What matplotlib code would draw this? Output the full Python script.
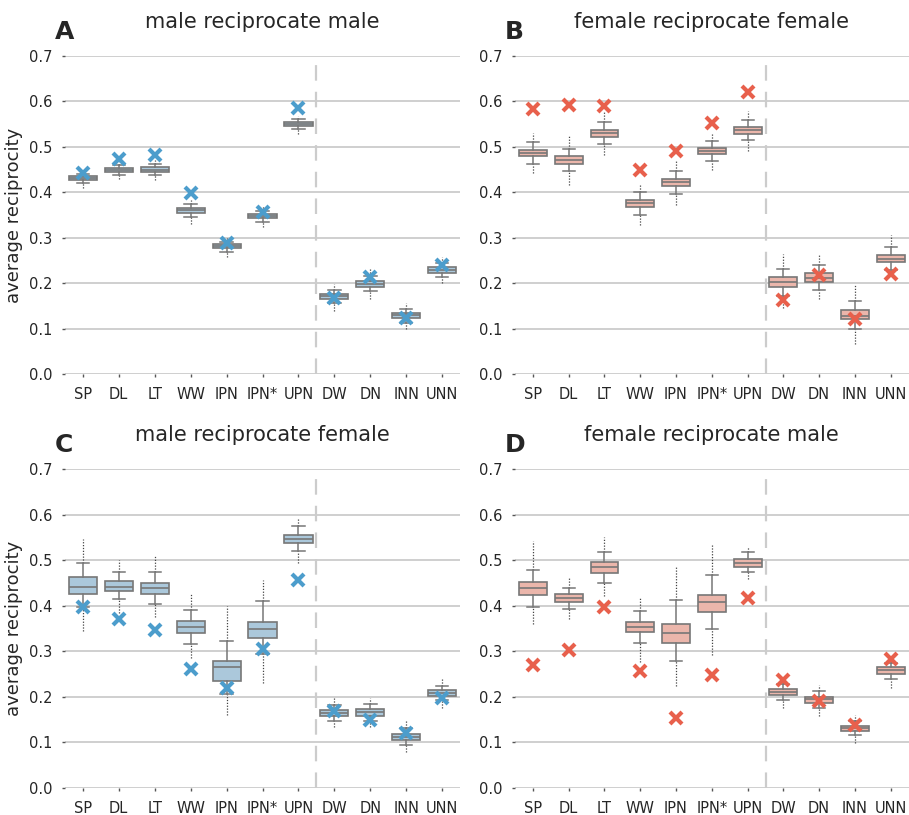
import matplotlib
matplotlib.use("Agg")
from matplotlib import pyplot as plt

cats = ['SP', 'DL', 'LT', 'WW', 'IPN', 'IPN*', 'UPN', 'DW', 'DN', 'INN', 'UNN']

# panel A: male reciprocate male
a_med = [.431, .449, .450, .360, .282, .347, .551, .171, .1985, .129, .229]
a_q1 = [.4265, .444, .445, .354, .2765, .343, .546, .1655, .192, .123, .223]
a_q3 = [.435, .4535, .455, .366, .286, .352, .555, .1765, .2045, .134, .2345]
a_lo = [.4205, .439, .4375, .3455, .268, .334, .540, .157, .182, .1125, .214]
a_hi = [.440, .4595, .4625, .375, .291, .358, .562, .186, .215, .144, .245]
a_fmin = [.410, .430, .4265, .331, .257, .324, .529, .138, .166, .100, .200]
a_fmax = [.450, .466, .4705, .384, .2985, .369, .569, .199, .232, .156, .258]
a_obs = [.443, .474, .483, .398, .288, .356, .586, .168, .214, .124, .241]

# panel B: female reciprocate female
b_med = [.487, .471, .530, .376, .422, .491, .537, .202, .212, .127, .254]
b_q1 = [.479, .4625, .522, .367, .414, .484, .529, .191, .202, .121, .246]
b_q3 = [.494, .480, .538, .384, .429, .498, .544, .213, .222, .140, .263]
b_lo = [.463, .446, .507, .349, .396, .468, .514, .172, .185, .100, .230]
b_hi = [.511, .496, .554, .401, .446, .5125, .559, .232, .240, .161, .280]
b_fmin = [.443, .415, .483, .327, .373, .449, .490, .146, .164, .066, .222]
b_fmax = [.531, .527, .577, .419, .468, .531, .579, .265, .265, .195, .305]
b_obs = [.584, .593, .590, .449, .490, .553, .621, .1625, .217, .121, .220]

# panel C: male reciprocate female
c_med = [.442, .442, .439, .353, .265, .348, .547, .165, .166, .113, .209]
c_q1 = [.426, .433, .426, .340, .234, .329, .538, .159, .1575, .106, .202]
c_q3 = [.462, .454, .451, .366, .279, .365, .556, .171, .173, .119, .215]
c_lo = [.397, .415, .404, .317, .206, .295, .521, .148, .146, .094, .1935]
c_hi = [.493, .473, .474, .391, .323, .411, .574, .182, .184, .131, .224]
c_fmin = [.344, .385, .376, .285, .160, .230, .493, .135, .134, .078, .176]
c_fmax = [.546, .500, .511, .429, .400, .457, .592, .197, .197, .149, .240]
c_obs = [.397, .370, .346, .262, .220, .304, .457, .169, .1495, .121, .1985]

# panel D: female reciprocate male
d_med = [.439, .417, .485, .354, .340, .409, .494, .211, .195, .131, .258]
d_q1 = [.424, .409, .472, .342, .318, .386, .486, .204, .1875, .1245, .251]
d_q3 = [.452, .425, .497, .365, .360, .4235, .503, .218, .2007, .137, .2645]
d_lo = [.397, .393, .450, .319, .278, .350, .474, .193, .176, .1154, .2403]
d_hi = [.479, .440, .519, .388, .412, .467, .517, .228, .2125, .1476, .274]
d_fmin = [.359, .371, .421, .276, .224, .291, .458, .175, .157, .099, .219]
d_fmax = [.541, .460, .550, .420, .485, .533, .529, .240, .226, .160, .292]
d_obs = [.270, .303, .398, .257, .154, .248, .416, .236, .1905, .138, .283]

blue_box = '#abc8db'
blue_x = '#4c9dcc'
red_box = '#ebb6ab'
red_x = '#e8604c'
edge = '#777777'
txt = '#262626'

panels = [
    ('A', 'male reciprocate male', a_med, a_q1, a_q3, a_lo, a_hi, a_fmin, a_fmax, a_obs, blue_box, blue_x),
    ('B', 'female reciprocate female', b_med, b_q1, b_q3, b_lo, b_hi, b_fmin, b_fmax, b_obs, red_box, red_x),
    ('C', 'male reciprocate female', c_med, c_q1, c_q3, c_lo, c_hi, c_fmin, c_fmax, c_obs, blue_box, blue_x),
    ('D', 'female reciprocate male', d_med, d_q1, d_q3, d_lo, d_hi, d_fmin, d_fmax, d_obs, red_box, red_x),
]

rects = [
    [0.0712, 0.5411, 0.4352, 0.3902],
    [0.5666, 0.5411, 0.4330, 0.3902],
    [0.0712, 0.0331, 0.4352, 0.3914],
    [0.5666, 0.0331, 0.4330, 0.3914],
]

fig = plt.figure(figsize=(9.09, 8.15), dpi=100)

for k, (letter, title, med, q1, q3, lo, hi, fmin, fmax, obs, fc, xc) in enumerate(panels):
    ax = fig.add_axes(rects[k])
    pos = list(range(len(cats)))
    stats = []
    for i in pos:
        stats.append(dict(med=med[i], q1=q1[i], q3=q3[i], whislo=lo[i], whishi=hi[i], fliers=[]))
    # fliers drawn as dense dotted columns
    ax.vlines(pos, fmin, lo, color='#444444', lw=0.9, linestyles=(0, (1, 1.3)), zorder=2)
    ax.vlines(pos, hi, fmax, color='#444444', lw=0.9, linestyles=(0, (1, 1.3)), zorder=2)
    ax.bxp(stats, positions=pos, widths=0.78, patch_artist=True, showfliers=False,
           boxprops=dict(facecolor=fc, edgecolor=edge, linewidth=1.2),
           medianprops=dict(color=edge, linewidth=1.2),
           whiskerprops=dict(color=edge, linewidth=1.1),
           capprops=dict(color=edge, linewidth=1.1),
           capwidths=0.34, zorder=3)
    ax.plot(pos, obs, 'x', color=xc, ms=8, mew=3, linestyle='none', zorder=5)
    ax.plot([6.5, 6.5], [0, 0.7], color='#cccccc', lw=1.6, dashes=(7, 5), zorder=1)

    ax.set_xlim(-0.5, 10.5)
    ax.set_ylim(0, 0.7)
    ax.set_yticks([0.0, 0.1, 0.2, 0.3, 0.4, 0.5, 0.6, 0.7])
    ax.set_yticklabels(['0.0', '0.1', '0.2', '0.3', '0.4', '0.5', '0.6', '0.7'])
    ax.set_xticks(pos)
    ax.set_xticklabels(cats)
    ax.yaxis.grid(True, color='#cccccc', lw=1.3, zorder=0)
    ax.set_axisbelow(True)
    for s in ax.spines.values():
        s.set_visible(False)
    ax.tick_params(axis='both', length=2, width=1, color='#555555', labelsize=10.5,
                   labelcolor=txt, pad=7)
    ax.set_title(title, fontsize=15, color=txt, pad=20)
    ax.text(-0.025, 1.075, letter, transform=ax.transAxes, fontsize=18,
            fontweight='bold', color=txt, ha='left', va='center')
    if k % 2 == 0:
        ax.set_ylabel('average reciprocity', fontsize=13, color=txt, labelpad=4)

fig.savefig('out.png', dpi=100)
